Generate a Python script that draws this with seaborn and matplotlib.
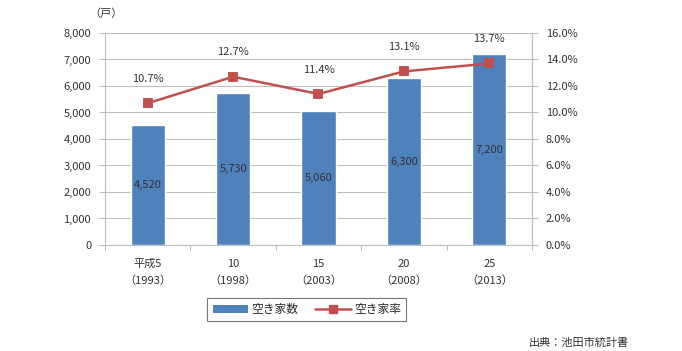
import matplotlib
matplotlib.use('Agg')
import matplotlib.pyplot as plt
import numpy as np
import pandas as pd
import seaborn as sns
from matplotlib.ticker import FuncFormatter, MultipleLocator
from matplotlib.lines import Line2D
from matplotlib.patches import Patch

sns.set_style('white')
plt.rcParams['font.family'] = ['Noto Sans CJK JP', 'DejaVu Sans']

# data
years = ['平成5\n（1993）', '10\n（1998）', '15\n（2003）', '20\n（2008）', '25\n（2013）']
vacant = [4520, 5730, 5060, 6300, 7200]
rate = [10.7, 12.7, 11.4, 13.1, 13.7]

bar_color = '#4F81BD'
line_color = '#C0504D'
grid_color = '#BFBFBF'
text_color = '#333333'

df = pd.DataFrame({'year': years, 'vacant': vacant, 'rate': rate})

fig = plt.figure(figsize=(6.82, 3.51), dpi=100)
ax = fig.add_axes([0.154, 0.302, 0.626, 0.604])

sns.barplot(data=df, x='year', y='vacant', color=bar_color, width=0.4,
            saturation=1, ax=ax, zorder=2)
ax.set_ylim(0, 8000)
ax.set_xlim(-0.5, len(years) - 0.5)
ax.yaxis.set_major_locator(MultipleLocator(1000))
ax.yaxis.set_major_formatter(FuncFormatter(lambda v, p: f'{int(v):,}'))
ax.grid(axis='y', color=grid_color, linewidth=0.8, zorder=0)
ax.set_axisbelow(True)
ax.set_xlabel('')
ax.set_ylabel('')

for c in ax.containers:
    ax.bar_label(c, labels=[f'{v:,}' for v in vacant], label_type='center',
                 fontsize=8, color=text_color)

# category ticks between groups
ax.set_xticks(np.arange(len(years)))
ax.set_xticklabels(years, fontsize=8, color=text_color, linespacing=1.75)
ax.tick_params(axis='x', length=0, pad=10)
for b in np.arange(len(years) + 1) - 0.5:
    ax.plot([b, b], [0, -0.022], transform=ax.get_xaxis_transform(),
            color=grid_color, linewidth=0.8, clip_on=False)
ax.tick_params(axis='y', labelsize=8, labelcolor=text_color, length=4,
               color=grid_color, left=True, pad=6)

ax.spines['top'].set_visible(False)
for s in ['left', 'bottom', 'right']:
    ax.spines[s].set_color(grid_color)
    ax.spines[s].set_linewidth(0.8)

ax2 = ax.twinx()
sns.pointplot(data=df, x='year', y='rate', color=line_color, markers='s',
              markersize=6, linewidth=1.8, ax=ax2, zorder=3)
ax2.set_ylim(0, 16)
ax2.set_xlim(-0.5, len(years) - 0.5)
ax2.yaxis.set_major_locator(MultipleLocator(2))
ax2.yaxis.set_major_formatter(FuncFormatter(lambda v, p: f'{v:.1f}%'))
ax2.tick_params(axis='y', labelsize=8, labelcolor=text_color, length=4,
                color=grid_color, right=True, pad=6)
ax2.set_ylabel('')
ax2.set_xlabel('')
for s in ['top', 'left', 'bottom']:
    ax2.spines[s].set_visible(False)
ax2.spines['right'].set_color(grid_color)
ax2.spines['right'].set_linewidth(0.8)

for i, r in enumerate(rate):
    ax2.annotate(f'{r:.1f}%', (i, r), xytext=(0, 14), textcoords='offset points',
                 ha='center', va='bottom', fontsize=8, color=text_color)

fig.text(0.155, 0.962, '（戸）', ha='center', va='center', fontsize=8, color=text_color)

handles = [Patch(facecolor=bar_color, edgecolor='none'),
           Line2D([], [], color=line_color, marker='s', markersize=6, linewidth=1.8)]
leg = fig.legend(handles, ['空き家数', '空き家率'], loc='center',
                 bbox_to_anchor=(0.450, 0.118), ncol=2, fontsize=8.5,
                 frameon=True, fancybox=False, edgecolor='#555555',
                 handlelength=3.0, handleheight=0.6, columnspacing=1.4,
                 borderpad=0.45, handletextpad=0.3, borderaxespad=0)
leg.get_frame().set_linewidth(0.8)

fig.text(0.922, 0.008, '出典：池田市統計書', ha='right', va='bottom', fontsize=8,
         color=text_color)

fig.savefig('out.png', dpi=100)
